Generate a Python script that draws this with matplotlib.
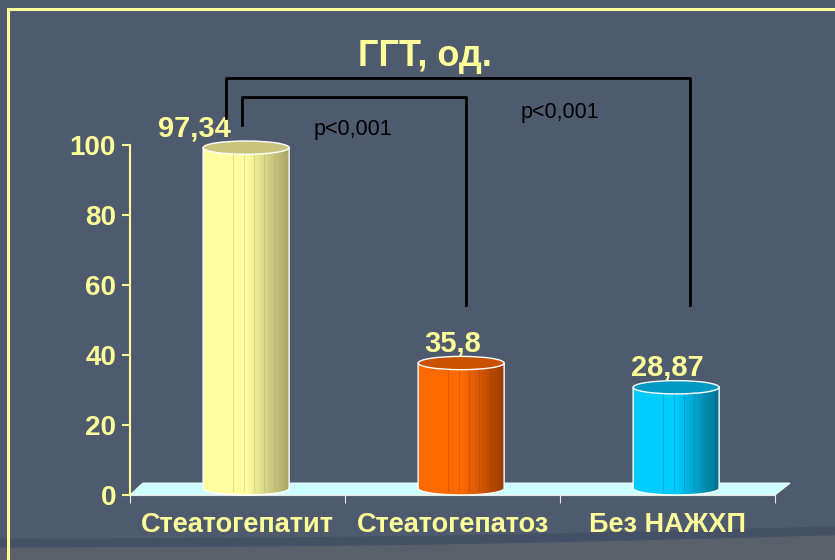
import numpy as np
import matplotlib.pyplot as plt
from matplotlib.patches import Ellipse, Polygon, PathPatch, Rectangle
from matplotlib.path import Path
from matplotlib.colors import LinearSegmentedColormap

categories = ['Стеатогепатит', 'Стеатогепатоз', 'Без НАЖХП']
values = [97.34, 35.8, 28.87]
value_labels = ['97,34', '35,8', '28,87']
p_labels = ['p<0,001', 'p<0,001']
title = 'ГГТ, од.'

bg = '#4e5a6e'
yellow = '#ffff99'
# left light -> right dark, plus top ellipse colour
bar_colors = [('#ffffa0', '#a8a468', '#c9c57c'),
              ('#ff6a00', '#9a3c00', '#c85200'),
              ('#00ccff', '#00708f', '#0099c4')]

plt.rcParams['font.family'] = ['Liberation Sans', 'DejaVu Sans']

fig = plt.figure(figsize=(8.35, 5.6), dpi=100, facecolor=bg)

# slide decoration at the bottom
xs = np.linspace(0, 1, 50)
curve = 0.021 + 0.022 * xs - 0.006 * np.sin(np.pi * xs)
fig.patches.append(Polygon(np.r_[np.c_[xs, curve + 0.016], np.c_[xs[::-1], curve[::-1]]],
                           closed=True, transform=fig.transFigure, color='#445065', zorder=-2))
fig.patches.append(Polygon(np.r_[np.c_[xs, curve], [[1, 0], [0, 0]]],
                           closed=True, transform=fig.transFigure, color='#5a6069', zorder=-2))
fig.patches.append(Rectangle((8 / 835, -0.1), 1.2, 1.1 - 9 / 560, transform=fig.transFigure,
                             fill=False, edgecolor=yellow, lw=2.2, zorder=-1))

ax = fig.add_axes([0.1557, 0.1161, 0.7725, 0.625])
ax.set_facecolor('none')
ax.set_xlim(-0.5, 2.5)
ax.set_ylim(0, 100)

x = np.arange(len(categories))
shift = 0.04
w = 0.4
eh = 3.8
base = eh / 2

# floor
floor = Polygon([(-0.5, 0), (2.5, 0), (2.57, 3.4), (-0.44, 3.4)], closed=True,
                facecolor='#ccffff', edgecolor='#eeffff', lw=0.8, clip_on=False, zorder=1)
ax.add_patch(floor)

for i, v in enumerate(values):
    cx = x[i] + shift
    x0, x1 = cx - w / 2, cx + w / 2
    top = v + base
    t = np.linspace(np.pi, 2 * np.pi, 40)
    arc = np.c_[cx + w / 2 * np.cos(t), base + eh / 2 * np.sin(t)]
    verts = np.r_[[[x0, top]], arc, [[x1, top]], [[x0, top]]]
    codes = [Path.MOVETO] + [Path.LINETO] * (len(verts) - 2) + [Path.CLOSEPOLY]
    body = PathPatch(Path(verts, codes), facecolor='none', edgecolor='white', lw=1,
                     clip_on=False, zorder=3)
    ax.add_patch(body)
    light, dark, topc = bar_colors[i]
    cmap = LinearSegmentedColormap.from_list('c%d' % i, [light, light, dark])
    grad = np.linspace(0, 1, 64).reshape(1, -1)
    im = ax.imshow(grad, cmap=cmap, aspect='auto', extent=[x0, x1, 0, top], zorder=2)
    im.set_clip_path(body)
    im.set_clip_box(None)
    for fx in np.linspace(0.35, 0.95, 6):
        ax.plot([x0 + fx * w] * 2, [base * 0.6, top], color=dark, lw=0.5, alpha=0.5,
                zorder=2.5, clip_on=False)
    ax.add_patch(Ellipse((cx, top), w, eh, facecolor=topc, edgecolor='white', lw=1,
                         clip_on=False, zorder=4))

# value labels
label_dx = [-0.2, 0.0, 0.0]
for i, v in enumerate(values):
    ax.text(x[i] + label_dx[i], v + 7.5, value_labels[i], ha='center', va='center',
            color=yellow, fontsize=21, fontweight='bold', clip_on=False, zorder=5)

# significance brackets
ax.plot([-0.053, -0.053, 2.105, 2.105], [107.7, 119.1, 119.1, 54.3], color='black', lw=2,
        clip_on=False, zorder=5)
ax.plot([0.021, 0.021, 1.063, 1.063], [105.7, 113.7, 113.7, 54.3], color='black', lw=2,
        clip_on=False, zorder=5)
ax.text(0.537, 104.3, p_labels[0], ha='center', va='center', color='black', fontsize=15.5,
        clip_on=False)
ax.text(1.5, 109.4, p_labels[1], ha='center', va='center', color='black', fontsize=15.5,
        clip_on=False)

fig.text(0.509, 0.900, title, ha='center', va='center', color=yellow, fontsize=26,
         fontweight='bold')

# axes styling
for s in ['top', 'right']:
    ax.spines[s].set_visible(False)
ax.spines['left'].set_color(yellow)
ax.spines['left'].set_linewidth(1.5)
ax.spines['bottom'].set_color('#e8e8e8')
ax.spines['bottom'].set_linewidth(0.8)
ax.set_yticks([0, 20, 40, 60, 80, 100])
ax.tick_params(axis='y', colors=yellow, length=6, width=1.5, pad=4)
for lab in ax.get_yticklabels():
    lab.set_fontsize(20)
    lab.set_fontweight('bold')
ax.set_xticks(x)
ax.set_xticklabels(categories)
ax.set_xticks([-0.5, 0.5, 1.5, 2.5], minor=True)
ax.tick_params(axis='x', which='major', length=0, pad=12, labelcolor=yellow)
ax.tick_params(axis='x', which='minor', length=6, color='#e8e8e8', width=0.8)
for lab in ax.get_xticklabels():
    lab.set_fontsize(19.5)
    lab.set_fontweight('bold')

fig.savefig('out.png', dpi=100, facecolor=bg)
